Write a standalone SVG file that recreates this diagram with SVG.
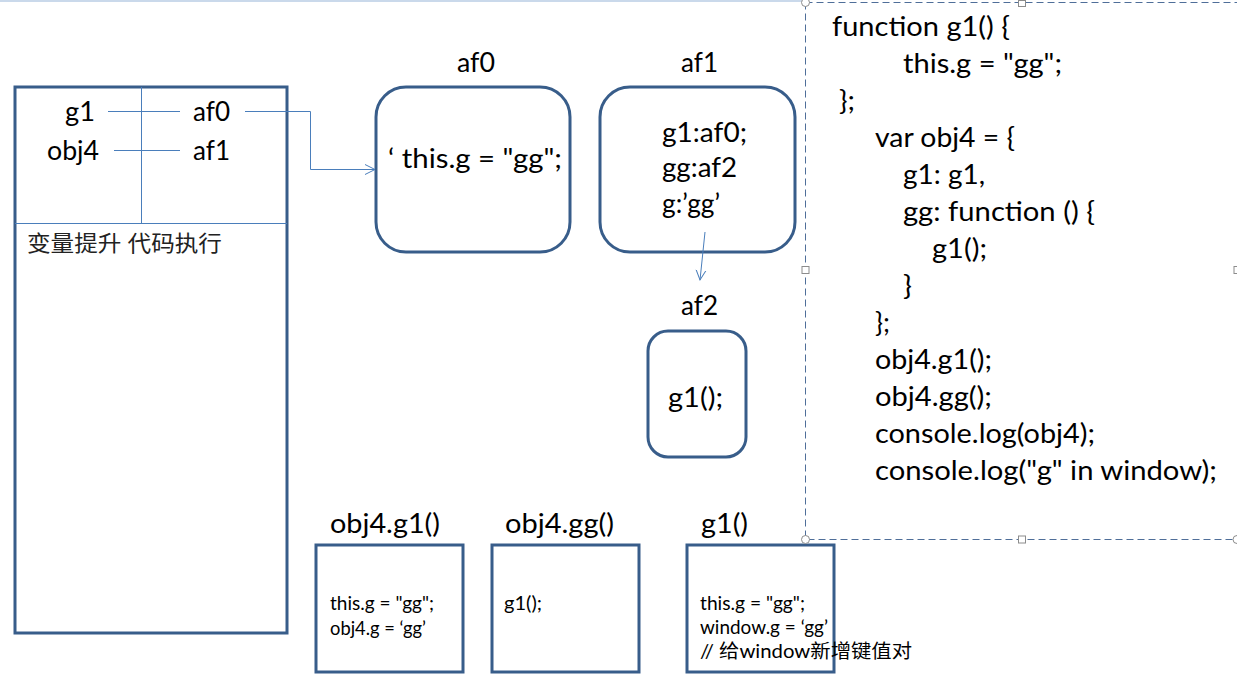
<svg xmlns="http://www.w3.org/2000/svg" width="1237" height="696" viewBox="0 0 1237 696">
<style>
text{font-family:Lato,"Noto Sans CJK SC",sans-serif;fill:#000}
.t26{font-size:26px}
.t19{font-size:19px}
.cjk{font-size:22px;fill:#222}
.box{fill:#fff;stroke:#385D8A;stroke-width:3}
.thin{fill:none;stroke:#4A7EBB;stroke-width:1}
.sel{fill:none;stroke:#4F6E99;stroke-width:1;stroke-dasharray:7,4}
.h{fill:#fff;stroke:#8C8C8C;stroke-width:1}
</style>
<defs>
<marker id="arr" markerUnits="userSpaceOnUse" markerWidth="12" markerHeight="12" refX="10" refY="5" orient="auto" viewBox="0 0 12 10">
<path d="M0,0 L10,5 L0,10" fill="none" stroke="#4A7EBB" stroke-width="1"/>
</marker>
</defs>
<rect width="1237" height="696" fill="#fff"/>
<line x1="0" y1="1" x2="805" y2="1" stroke="#95B3D7" stroke-width="1"/>

<g id="stack">
<rect class="box" x="15" y="87" width="272" height="546"/>
<line class="thin" x1="141.5" y1="87" x2="141.5" y2="223"/>
<line class="thin" x1="15" y1="223.5" x2="287" y2="223.5"/>
<text class="t26" x="65" y="121" textLength="30" lengthAdjust="spacingAndGlyphs">g1</text>
<text class="t26" x="193" y="121" textLength="37" lengthAdjust="spacingAndGlyphs">af0</text>
<text class="t26" x="47" y="160" textLength="52" lengthAdjust="spacingAndGlyphs">obj4</text>
<text class="t26" x="193" y="160" textLength="37" lengthAdjust="spacingAndGlyphs">af1</text>
<text class="cjk" x="27" y="251" textLength="195" lengthAdjust="spacingAndGlyphs">变量提升 代码执行</text>
</g>

<g id="af0">
<text class="t26" x="457" y="72" textLength="38" lengthAdjust="spacingAndGlyphs">af0</text>
<rect class="box" x="376" y="87" width="194" height="165" rx="30"/>
<text class="t26" x="388" y="168" textLength="174" lengthAdjust="spacingAndGlyphs">‘ this.g = "gg";</text>
</g>

<g id="af1">
<text class="t26" x="681" y="72" textLength="37" lengthAdjust="spacingAndGlyphs">af1</text>
<rect class="box" x="600" y="87" width="195" height="165" rx="30"/>
<text class="t26" x="662" y="142" textLength="85" lengthAdjust="spacingAndGlyphs">g1:af0;</text>
<text class="t26" x="662" y="177" textLength="75" lengthAdjust="spacingAndGlyphs">gg:af2</text>
<text class="t26" x="662" y="213" textLength="58" lengthAdjust="spacingAndGlyphs">g:’gg’</text>
</g>

<g id="af2">
<text class="t26" x="681" y="315" textLength="37" lengthAdjust="spacingAndGlyphs">af2</text>
<rect class="box" x="648" y="331" width="98" height="126" rx="20"/>
<text class="t26" x="668" y="407" textLength="55" lengthAdjust="spacingAndGlyphs">g1();</text>
</g>

<g id="call-obj4-g1">
<text class="t26" x="330" y="533" textLength="110" lengthAdjust="spacingAndGlyphs">obj4.g1()</text>
<rect class="box" x="316" y="545" width="147" height="127"/>
<text class="t19" x="330" y="610" textLength="104" lengthAdjust="spacingAndGlyphs">this.g = "gg";</text>
<text class="t19" x="330" y="635" textLength="96" lengthAdjust="spacingAndGlyphs">obj4.g = ‘gg’</text>
</g>

<g id="call-obj4-gg">
<text class="t26" x="505" y="533" textLength="109" lengthAdjust="spacingAndGlyphs">obj4.gg()</text>
<rect class="box" x="492" y="545" width="147" height="127"/>
<text class="t19" x="504" y="610" textLength="38" lengthAdjust="spacingAndGlyphs">g1();</text>
</g>

<g id="call-g1">
<text class="t26" x="701" y="533" textLength="47" lengthAdjust="spacingAndGlyphs">g1()</text>
<rect class="box" x="687" y="545" width="147" height="127"/>
<text class="t19" x="700" y="610" textLength="105" lengthAdjust="spacingAndGlyphs">this.g = "gg";</text>
<text class="t19" x="700" y="634" textLength="128" lengthAdjust="spacingAndGlyphs">window.g = ‘gg’</text>
<text class="t19" x="700" y="658" textLength="212" lengthAdjust="spacingAndGlyphs">// 给window新增键值对</text>
</g>

<g id="code">
<rect class="sel" x="805.5" y="2.5" width="440" height="537"/>
<text class="t26" x="832" y="36" textLength="178" lengthAdjust="spacingAndGlyphs">function g1() {</text>
<text class="t26" x="903" y="73" textLength="159" lengthAdjust="spacingAndGlyphs">this.g = "gg";</text>
<text class="t26" x="839" y="110" textLength="16" lengthAdjust="spacingAndGlyphs">};</text>
<text class="t26" x="875" y="147" textLength="140" lengthAdjust="spacingAndGlyphs">var obj4 = {</text>
<text class="t26" x="903" y="184" textLength="82" lengthAdjust="spacingAndGlyphs">g1: g1,</text>
<text class="t26" x="903" y="221" textLength="192" lengthAdjust="spacingAndGlyphs">gg: function () {</text>
<text class="t26" x="932" y="258" textLength="55" lengthAdjust="spacingAndGlyphs">g1();</text>
<text class="t26" x="903" y="295" textLength="9" lengthAdjust="spacingAndGlyphs">}</text>
<text class="t26" x="875" y="332" textLength="15" lengthAdjust="spacingAndGlyphs">};</text>
<text class="t26" x="875" y="369" textLength="117" lengthAdjust="spacingAndGlyphs">obj4.g1();</text>
<text class="t26" x="875" y="406" textLength="117" lengthAdjust="spacingAndGlyphs">obj4.gg();</text>
<text class="t26" x="875" y="443" textLength="220" lengthAdjust="spacingAndGlyphs">console.log(obj4);</text>
<text class="t26" x="875" y="480" textLength="342" lengthAdjust="spacingAndGlyphs">console.log("g" in window);</text>
<circle class="h" cx="805.5" cy="2.5" r="4"/>
<rect class="h" x="1018.5" y="0.5" width="7" height="6"/>
<rect class="h" x="802" y="266.5" width="7" height="7"/>
<circle class="h" cx="805.5" cy="539.5" r="4"/>
<rect class="h" x="1018.5" y="536" width="7" height="7"/>
<circle class="h" cx="1237" cy="539.5" r="4"/>
<rect class="h" x="1234" y="266.5" width="7" height="7"/>
</g>

<g id="connectors">
<line class="thin" x1="108" y1="111.5" x2="180" y2="111.5"/>
<line class="thin" x1="114" y1="150.5" x2="180" y2="150.5"/>
<polyline class="thin" points="245,111.5 310.5,111.5 310.5,169.5 375,169.5" marker-end="url(#arr)"/>
<line class="thin" x1="705" y1="232" x2="700" y2="280" marker-end="url(#arr)"/>
</g>
</svg>
